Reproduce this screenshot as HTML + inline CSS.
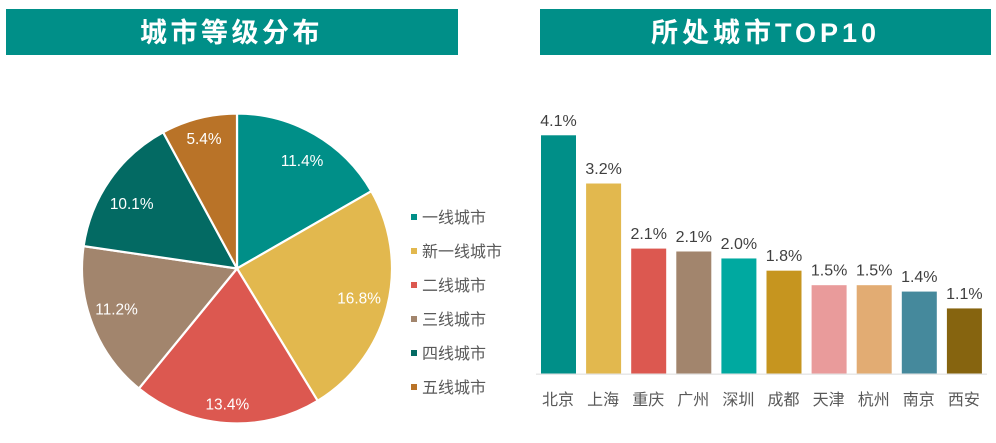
<!DOCTYPE html>
<html lang="zh">
<head>
<meta charset="utf-8">
<title>城市等级分布与所处城市TOP10</title>
<style>
html,body{margin:0;padding:0;background:#fff;width:996px;height:443px;overflow:hidden}
svg{display:block;font-family:"Liberation Sans","Noto Sans CJK SC",sans-serif}
.title{font-family:"Liberation Sans","Noto Sans CJK SC",sans-serif;font-weight:700;font-size:27px;fill:#fff;text-anchor:middle}
</style>
</head>
<body>
<svg id="chart" width="996" height="443" viewBox="0 0 996 443" xmlns="http://www.w3.org/2000/svg">
  <rect x="6" y="9" width="452" height="46" fill="#008F88"/>
  <text class="title" x="231.5" y="42" letter-spacing="3.5">城市等级分布</text>
  <rect x="540" y="9" width="451" height="46" fill="#008F88"/>
  <text class="title" x="765.5" y="42" letter-spacing="4">所处城市TOP10</text>
  <g id="pie"></g>
  <g id="legend"></g>
  <g id="bars"></g>
</svg>
<script>
// Pie data
const tierNames = ['一线城市', '新一线城市', '二线城市', '三线城市', '四线城市', '五线城市'];
const tierValues = [11.4, 16.8, 13.4, 11.2, 10.1, 5.4];
const tierColors = ['#008F88', '#E2B84E', '#DC5850', '#A2856D', '#036A63', '#B97328'];

// Bar data
const cityNames = ['北京', '上海', '重庆', '广州', '深圳', '成都', '天津', '杭州', '南京', '西安'];
const cityValues = [4.1, 3.27, 2.15, 2.1, 1.98, 1.77, 1.52, 1.52, 1.41, 1.12];
const cityLabels = ['4.1%', '3.2%', '2.1%', '2.1%', '2.0%', '1.8%', '1.5%', '1.5%', '1.4%', '1.1%'];
const cityColors = ['#008F88', '#E2B84E', '#DC5850', '#A2856D', '#00A9A0', '#C6951F', '#E99B9B', '#E2AC73', '#45899C', '#86640F'];

const NS = 'http://www.w3.org/2000/svg';
function make(tag, attrs, parent, text) {
  const el = document.createElementNS(NS, tag);
  for (const k in attrs) el.setAttribute(k, attrs[k]);
  if (text !== undefined) el.textContent = text;
  parent.appendChild(el);
  return el;
}

// Pie
const pieGroup = document.getElementById('pie');
const cx = 237, cy = 268.5, radius = 155, labelRadius = 126;
const labelNudgeX = [2, 0, -1, -3, -2, -2];
const labelNudgeY = [1, -2, 10, -5, 7, -8];
const tierTotal = tierValues.reduce((a, b) => a + b, 0);
function polar(angle, r) {
  return [cx + r * Math.sin(angle), cy - r * Math.cos(angle)];
}
let startAngle = 0;
tierValues.forEach((value, i) => {
  const sweep = value / tierTotal * Math.PI * 2;
  const endAngle = startAngle + sweep;
  const p0 = polar(startAngle, radius);
  const p1 = polar(endAngle, radius);
  const large = sweep > Math.PI ? 1 : 0;
  const slice = make('path', {
    d: `M${cx} ${cy}L${p0[0]} ${p0[1]}A${radius} ${radius} 0 ${large} 1 ${p1[0]} ${p1[1]}Z`,
    fill: tierColors[i], stroke: '#fff', 'stroke-width': 2.2, 'stroke-linejoin': 'round'
  }, pieGroup);
  
  
  const lp = polar(startAngle + sweep / 2, labelRadius);
  const label = make('text', {
    x: lp[0] + labelNudgeX[i], y: lp[1] + labelNudgeY[i] + 5.5,
    fill: '#fff', 'font-size': 15.4, 'text-anchor': 'middle'
  }, pieGroup, value.toFixed(1) + '%');
  
  
  startAngle = endAngle;
});

// Legend
const legendGroup = document.getElementById('legend');
tierNames.forEach((name, i) => {
  const y = 217 + i * 34;
  const swatch = make('rect', { x: 411, y: y - 3, width: 6, height: 6, fill: tierColors[i] }, legendGroup);
  
  
  const entry = make('text', { x: 422, y: y + 6, fill: '#595959', 'font-size': 16 }, legendGroup, name);
  
  
});

// Bars
const barGroup = document.getElementById('bars');
const baseY = 373.5, pxPerUnit = 58.1, barLeft = 541, barStep = 45.1, barWidth = 35;
function xScale(i) { return barLeft + i * barStep; }
function yScale(v) { return baseY - v * pxPerUnit; }
const axisLine = make('rect', { x: 536, y: baseY, width: 451, height: 1.4, fill: '#E6E6E6' }, barGroup);


cityValues.forEach((value, i) => {
  const x = xScale(i), top = yScale(value);
  const bar = make('rect', { x: x, y: top, width: barWidth, height: baseY - top, fill: cityColors[i] }, barGroup);
  
  
  const valueLabel = make('text', {
    x: x + barWidth / 2, y: top - 9.5, fill: '#404040', 'font-size': 16, 'text-anchor': 'middle'
  }, barGroup, cityLabels[i]);
  
  
  const tick = make('text', {
    x: x + barWidth / 2 - 0.5, y: 405, fill: '#595959', 'font-size': 16, 'text-anchor': 'middle'
  }, barGroup, cityNames[i]);
  
  
});
</script>
</body>
</html>
